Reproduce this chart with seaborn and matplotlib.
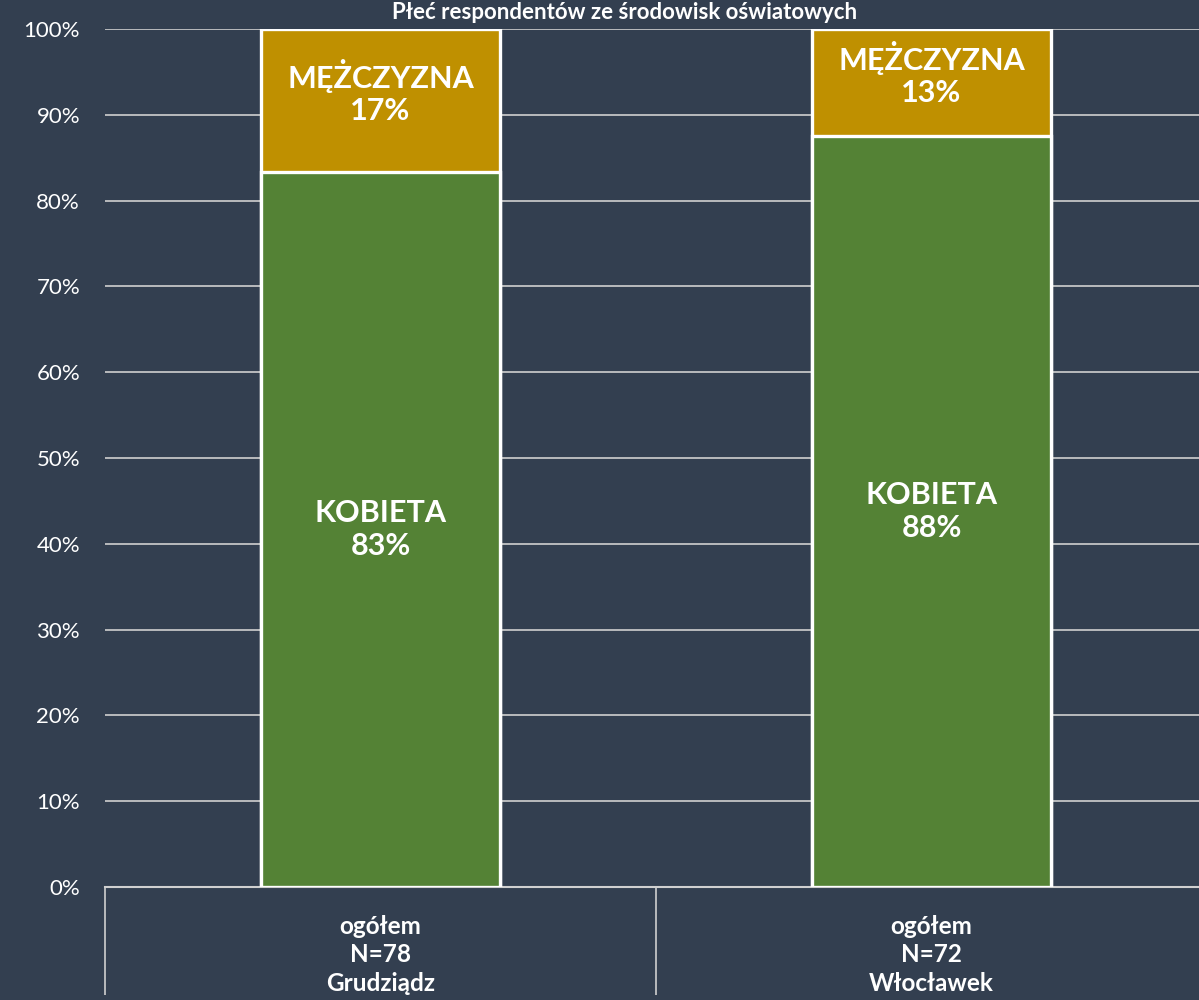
import matplotlib
matplotlib.use("Agg")
import matplotlib.pyplot as plt
import seaborn as sns
import pandas as pd

categories = ["ogółem\nN=78\nGrudziądz", "ogółem\nN=72\nWłocławek"]
kobieta = [83.3, 87.5]
mezczyzna = [16.7, 12.5]
yticks = [0, 10, 20, 30, 40, 50, 60, 70, 80, 90, 100]
title = "Płeć respondentów ze środowisk oświatowych"

BG = "#333f50"
GREEN = "#548235"
GOLD = "#bf9000"
GRID = "#d0d0d0"

sns.set_theme(style="white")
plt.rcParams["font.family"] = ["Lato", "DejaVu Sans"]

df = pd.DataFrame({"cat": categories, "kobieta": kobieta, "mezczyzna": mezczyzna})
df["total"] = df["kobieta"] + df["mezczyzna"]

fig = plt.figure(figsize=(11.99, 10), dpi=100, facecolor=BG)
ax = fig.add_axes([105 / 1199, 113 / 1000, 1102 / 1199, 858 / 1000])
ax.set_facecolor(BG)

sns.barplot(data=df, x="cat", y="total", color=GOLD, width=0.432,
            edgecolor="white", linewidth=2.4, ax=ax, saturation=1, zorder=3)
sns.barplot(data=df, x="cat", y="kobieta", color=GREEN, width=0.432,
            edgecolor="white", linewidth=2.4, ax=ax, saturation=1, zorder=4)

ax.set_xlim(-0.5, 1.5)
ax.set_ylim(0, 100)
ax.set_yticks(yticks)
ax.set_yticklabels([f"{v}%" for v in yticks], color="white", fontsize=16)
ax.yaxis.grid(True, color=GRID, linewidth=1.2, zorder=0)
ax.set_axisbelow(True)
ax.tick_params(axis="y", length=0, pad=18)

ax.set_xticks([0, 1])
ax.set_xticklabels(categories, color="white", fontsize=17.5, fontweight="bold",
                   linespacing=1.3)
ax.set_xticks([-0.5, 0.5, 1.5], minor=True)
ax.tick_params(axis="x", which="major", length=0, pad=20, bottom=True)
ax.tick_params(axis="x", which="minor", length=78, width=1.2, color=GRID,
               direction="out", bottom=True)
ax.set_xlabel("")
ax.set_ylabel("")

for s in ["left", "right", "top"]:
    ax.spines[s].set_visible(False)
ax.spines["bottom"].set_color(GRID)
ax.spines["bottom"].set_linewidth(1.5)

for i in range(len(categories)):
    ax.text(i, kobieta[i] / 2, f"KOBIETA\n{int(kobieta[i] + 0.5)}%", ha="center",
            va="center", color="white", fontsize=22, fontweight="bold",
            linespacing=1.2, zorder=6)
    ax.text(i, kobieta[i] + mezczyzna[i] / 2 + 1.0,
            f"MĘŻCZYZNA\n{int(mezczyzna[i] + 0.5)}%", ha="center", va="center",
            color="white", fontsize=22, fontweight="bold", linespacing=1.2,
            zorder=6)

fig.text(625 / 1199, 0.998, title, ha="center", va="top", color="white",
         fontsize=16, fontweight="bold")

fig.savefig("out.png", dpi=100, facecolor=BG)
